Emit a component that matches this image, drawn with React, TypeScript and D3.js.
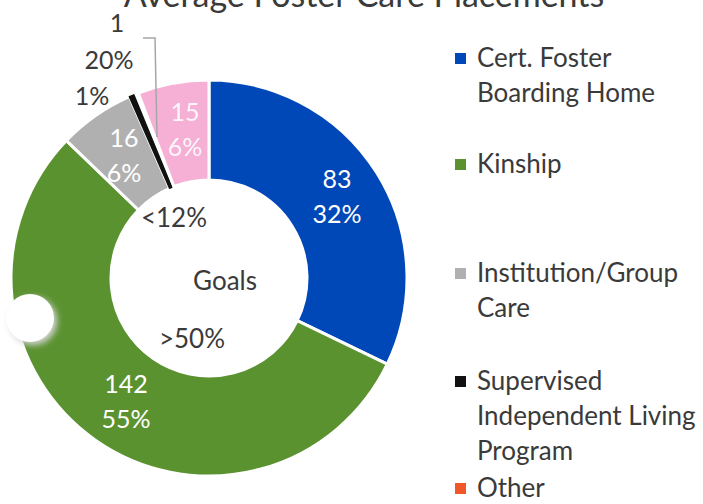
import React from "react";
import * as d3 from "d3";

const categories = ["Cert. Foster Boarding Home", "Kinship", "Institution/Group Care", "Supervised Independent Living Program", "Gap", "Other"];
const values = [83, 142, 16, 1, 1, 15];
const colors = ["#0047b8", "#5b9230", "#b0b0b0", "#111111", "none", "#f6b0d5"];
const countLabels = ["83", "142", "16", "", "", "15"];
const pctLabels = ["32%", "55%", "6%", "", "", "6%"];

const legendItems = ["Cert. Foster|Boarding Home", "Kinship", "Institution/Group|Care", "Supervised|Independent Living|Program", "Other"];
const legendColors = ["#0047b8", "#5b9230", "#b0b0b0", "#111111", "#f0582a"];
const legendBaselines = [67, 173, 282, 390, 497];

const W = 703, H = 504;
const cx = 209, cy = 278, R = 198, r0 = 98;
const FONT = "Lato, 'Open Sans', sans-serif";
const TXT = "#3a3a3a";

// label anchor positions (in pixels) for the in-ring numbers
const labelPos: Record<number, [number, number]> = {
  0: [337, 188],
  1: [126, 393],
  2: [124, 147],
  5: [185, 121],
};

export default function App() {
  const pie = d3.pie<number>().sort(null).value((d) => d)(values);
  const arc = d3.arc<d3.PieArcDatum<number>>().innerRadius(r0).outerRadius(R);

  return (
    <svg width={W} height={H} style={{ position: "absolute", left: 0, top: 0, background: "#fff" }} fontFamily={FONT}>
      <defs>
        <filter id="sh" x="-50%" y="-50%" width="200%" height="200%">
          <feGaussianBlur stdDeviation="3" />
        </filter>
      </defs>
      <text x={364} y={7} textAnchor="middle" fontSize={34} fill={TXT}>Average Foster Care Placements</text>

      <g transform={`translate(${cx},${cy})`}>
        {pie.map((p, i) =>
          colors[i] === "none" ? null : (
            <path
              key={i}
              d={arc(p) || ""}
              fill={colors[i]}
              stroke={i === 3 ? colors[i] : "#fff"}
              strokeWidth={i === 3 ? 1.5 : 3}
              strokeLinejoin="round"
            />
          )
        )}
      </g>

      {pie.map((p, i) => {
        const pos = labelPos[i];
        if (!pos || !countLabels[i]) return null;
        return (
          <g key={"l" + i} fill="#fff" fontSize={25} textAnchor="middle" opacity={i === 5 ? 0.9 : 1}>
            <text x={pos[0]} y={pos[1]}>{countLabels[i]}</text>
            <text x={pos[0]} y={pos[1] + 35}>{pctLabels[i]}</text>
          </g>
        );
      })}

      {/* outside labels for the small slice */}
      <g fill={TXT} fontSize={25} textAnchor="middle">
        <text x={117} y={32}>1</text>
        <text x={109} y={69}>20%</text>
        <text x={92} y={105}>1%</text>
      </g>
      <polyline points="143,38 155,38 157,137" fill="none" stroke="#a6a6a6" strokeWidth={1.5} />

      {/* goals in the hole */}
      <g fill={TXT} fontSize={26} textAnchor="middle">
        <text x={174} y={227}>&lt;12%</text>
        <text x={225} y={290}>Goals</text>
        <text x={192} y={348}>&gt;50%</text>
      </g>

      {/* white circle artefact */}
      <circle cx={33} cy={321} r={24} fill="#d4d4d4" filter="url(#sh)" />
      <circle cx={30} cy={318} r={24} fill="#fff" />

      {/* legend */}
      {legendItems.map((item, i) => {
        const lines = item.split("|");
        const b = legendBaselines[i];
        return (
          <g key={"lg" + i}>
            <rect x={455} y={b - 14} width={11} height={11} fill={legendColors[i]} />
            {lines.map((ln, j) => (
              <text key={j} x={477} y={b + j * 35} fontSize={26} fill={TXT}>{ln}</text>
            ))}
          </g>
        );
      })}
    </svg>
  );
}
